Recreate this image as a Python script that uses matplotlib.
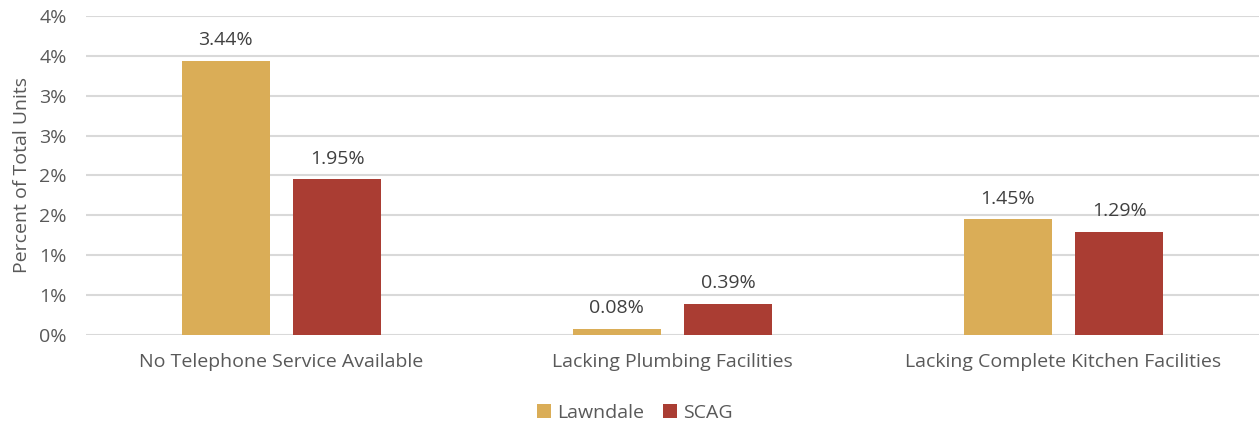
import matplotlib
matplotlib.use("Agg")
import matplotlib.pyplot as plt
import numpy as np

categories = ["No Telephone Service Available", "Lacking Plumbing Facilities", "Lacking Complete Kitchen Facilities"]
series_names = ["Lawndale", "SCAG"]
lawndale = [3.44, 0.08, 1.45]
scag = [1.95, 0.39, 1.29]
colors = ["#DAAD57", "#AA3D33"]
yticks = [0, 0.5, 1.0, 1.5, 2.0, 2.5, 3.0, 3.5, 4.0]
ytick_labels = ["0%", "1%", "1%", "2%", "2%", "3%", "3%", "4%", "4%"]

plt.rcParams['font.family'] = ['Open Sans', 'DejaVu Sans']
txt = "#595959"
fs = 14

fig = plt.figure(figsize=(12.59, 4.21), dpi=100)
ax = fig.add_axes([0.0683, 0.2043, 0.9317, 0.7577])

x = np.arange(len(categories))
w = 0.225
off = 0.143
for vals, c, name, d in zip([lawndale, scag], colors, series_names, [-off, off]):
    bars = ax.bar(x + d, vals, width=w, color=c, label=name, zorder=3)
    for b, v in zip(bars, vals):
        ax.annotate(f"{v:.2f}%", (b.get_x() + b.get_width() / 2, b.get_height()),
                    xytext=(0, 8.5), textcoords="offset points", ha="center", va="bottom",
                    fontsize=fs, color="#404040")

ax.set_xlim(-0.5, 2.5)
ax.set_ylim(0, 4.0)
ax.set_yticks(yticks)
ax.set_yticklabels(ytick_labels)
ax.set_xticks(x)
ax.set_xticklabels(categories)
ax.tick_params(axis='both', length=0, labelsize=fs, colors=txt)
ax.tick_params(axis='x', pad=13)
ax.tick_params(axis='y', pad=14)
ax.grid(axis='y', color="#D9D9D9", linewidth=1.5, zorder=0)
for s in ax.spines.values():
    s.set_visible(False)
ax.set_ylabel("Percent of Total Units", fontsize=fs, color=txt)
ax.yaxis.set_label_coords(-0.047, 0.5)

ax.legend(loc="upper center", bbox_to_anchor=(0.468, -0.16), ncol=2, frameon=False,
          fontsize=fs, labelcolor=txt, handlelength=0.7, handleheight=0.7, handletextpad=0.3,
          columnspacing=1.0)

fig.savefig("out.png", dpi=100)
